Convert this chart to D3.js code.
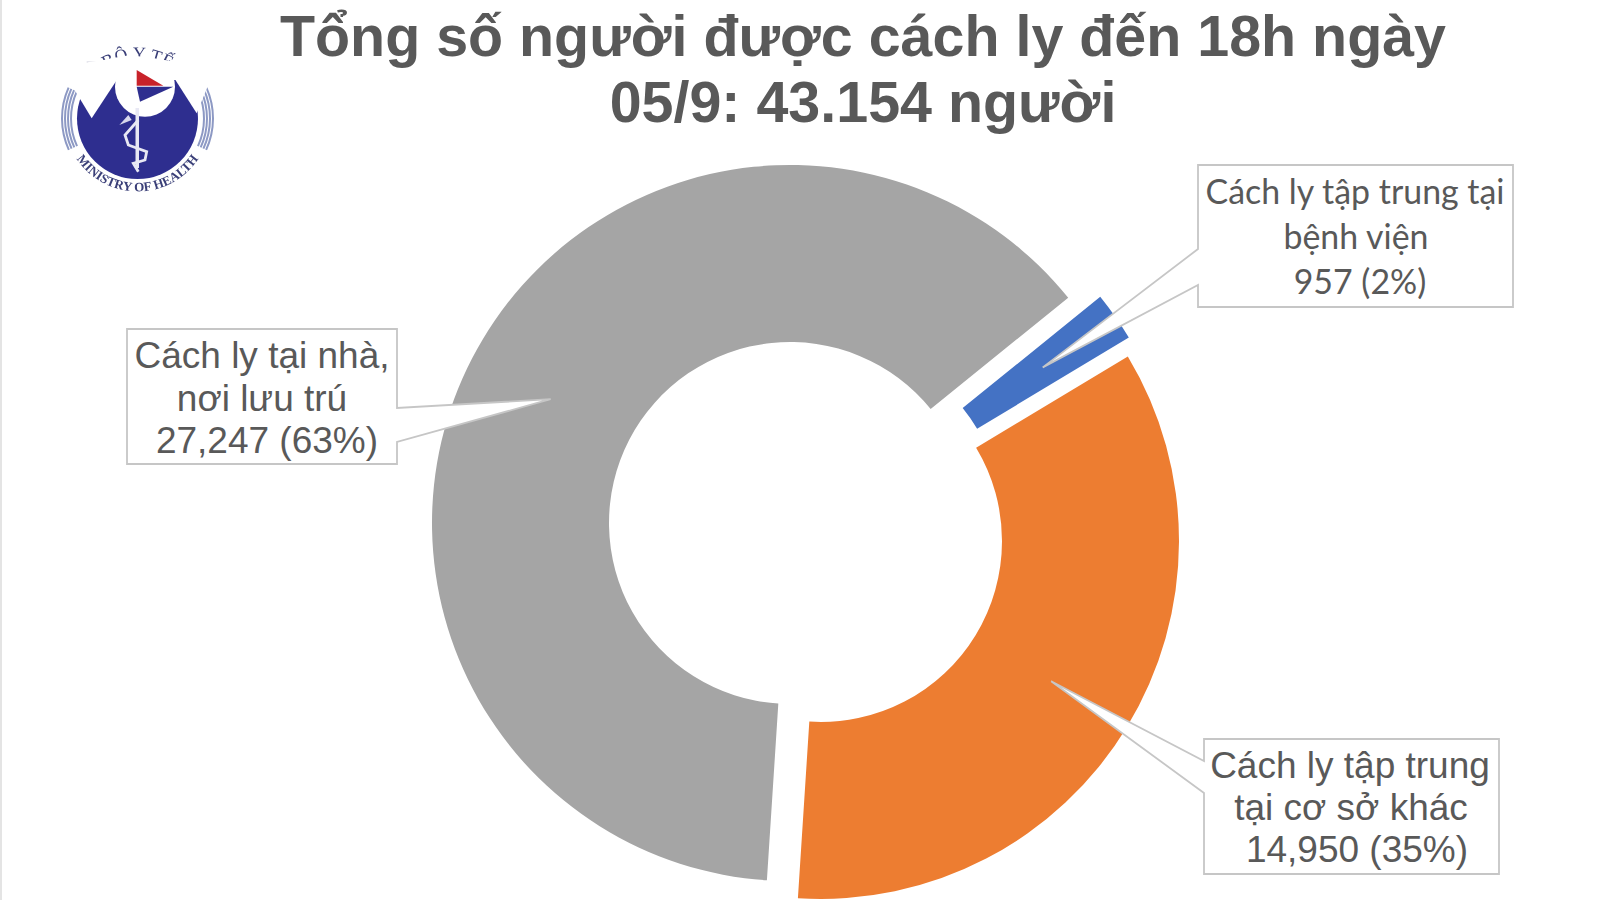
<!DOCTYPE html>
<html><head><meta charset="utf-8">
<script src="https://cdn.jsdelivr.net/npm/d3@7/dist/d3.min.js"></script>
<style>html,body{margin:0;padding:0;background:#fff;overflow:hidden}svg{display:block}</style>
</head><body><svg id="c" width="1600" height="900"></svg>
<script>
// Data
const categories = ["Cách ly tập trung tại bệnh viện","Cách ly tập trung tại cơ sở khác","Cách ly tại nhà, nơi lưu trú"];
const values = [957,14950,27247];
const labelLines = [["Cách ly tập trung tại","bệnh viện"],["Cách ly tập trung","tại cơ sở khác"],["Cách ly tại nhà,","nơi lưu trú"]];
const colors = ["#4472C4","#ED7D31","#A5A5A5"];
const titleLines = ["Tổng số người được cách ly đến 18h ngày","05/9: 43.154 người"];

// Layout
const R = 358, r = 181, startDeg = 51.0;
const centers = [[822,522],[821,541],[790,523]];
const boxes = [
 {x0:1198,y0:165,x1:1513,y1:307,side:"l",a:249,b:285,font:"Lato, Carlito, sans-serif",size:33.9,ty:[204,249,294],tx:[1355,1356,1360]},
 {x0:1204,y0:739,x1:1499,y1:874,side:"l",a:761,b:793,font:"'Liberation Sans', Arial, sans-serif",size:37,ty:[778,820,862],tx:[1350,1351,1357]},
 {x0:127,y0:329,x1:397,y1:464,side:"r",a:408,b:442,font:"'Liberation Sans', Arial, sans-serif",size:37,ty:[368,411,453],tx:[262,262,267]}
];

const svg = d3.select("#c");
svg.append("rect").attr("width",1600).attr("height",900).attr("fill","#fff");
svg.append("rect").attr("x",0).attr("width",2).attr("height",900).attr("fill","#e4e4e4");

// Title
svg.selectAll("text.title").data(titleLines).join("text").attr("class","title")
  .attr("x",863).attr("y",(d,i)=>[56,122][i]).attr("text-anchor","middle")
  .attr("font-family","'Liberation Sans', Arial, sans-serif").attr("font-weight",700)
  .attr("font-size",57.4).attr("fill","#595959").text(d=>d);

// Donut
const pie = d3.pie().sort(null).value(d=>d).startAngle(startDeg*Math.PI/180).endAngle((startDeg+360)*Math.PI/180);
const arc = d3.arc().innerRadius(r).outerRadius(R);
const arcs = pie(values);
svg.selectAll("path.slice").data(arcs).join("path").attr("class","slice")
  .attr("transform",(d,i)=>`translate(${centers[i]})`).attr("d",arc).attr("fill",(d,i)=>colors[i]);

// Callouts
const fmt = d3.format(",");
const total = d3.sum(values);
arcs.forEach((d,i)=>{
  const b = boxes[i], c = arc.centroid(d), tip=[c[0]+centers[i][0],c[1]+centers[i][1]];
  let p;
  if(b.side==="l") p=[[b.x0,b.y0],[b.x1,b.y0],[b.x1,b.y1],[b.x0,b.y1],[b.x0,b.b],tip,[b.x0,b.a]];
  else p=[[b.x0,b.y0],[b.x1,b.y0],[b.x1,b.a],tip,[b.x1,b.b],[b.x1,b.y1],[b.x0,b.y1]];
  svg.append("path").attr("d",d3.line()(p)+"Z").attr("fill","#fff").attr("stroke","#c6c6c6").attr("stroke-width",1.8);
  const lines = [...labelLines[i],`${fmt(values[i])} (${Math.round(values[i]/total*100)}%)`];
  svg.append("g").selectAll("text").data(lines).join("text")
    .attr("x",(t,j)=>b.tx[j]).attr("y",(t,j)=>b.ty[j]).attr("text-anchor","middle")
    .attr("font-family",b.font).attr("font-size",b.size).attr("fill","#595959").text(t=>t);
});

// Logo
const defs = svg.append("defs");
defs.append("filter").attr("id","soft").append("feGaussianBlur").attr("stdDeviation",0.7);
const L = svg.append("g").attr("filter","url(#soft)");
const lcx=137.5,lcy=118.5;
L.append("circle").attr("cx",lcx).attr("cy",lcy).attr("r",60.5).attr("fill","#2e2f8f");
const z = pts => d3.line()(pts.map(([x,y])=>[x/3+30,y/3+20]));
const ring = d3.arc();
[[65.5,67.5],[68.5,70.5],[71.5,73.5],[74.5,76.5]].forEach(([a,b])=>{
  [[-2.0,-1.15],[1.15,2.0]].forEach(([s,e])=>{
    L.append("path").attr("transform",`translate(${lcx},${lcy})`)
     .attr("d",ring({innerRadius:a,outerRadius:b,startAngle:s,endAngle:e})).attr("fill","#8d99c4");
  });
});
// ring text
defs.append("path").attr("id","bot").attr("d",`M ${lcx-73} ${lcy} A 73 73 0 0 0 ${lcx+73} ${lcy}`);
defs.append("path").attr("id","top").attr("d",`M ${lcx-59} ${lcy} A 59 59 0 0 1 ${lcx+59} ${lcy}`);
L.append("text").attr("font-family","'Liberation Serif',serif").attr("font-size",13).attr("font-weight",700).attr("fill","#3a3f78")
 .append("textPath").attr("href","#bot").attr("startOffset","50%").attr("text-anchor","middle").text("MINISTRY OF HEALTH");
L.append("text").attr("font-family","'Liberation Serif',serif").attr("font-size",18).attr("fill","#3a3f78")
 .append("textPath").attr("href","#top").attr("startOffset","50%").attr("text-anchor","middle").text("BỘ Y TẾ");
// small marks
L.append("path").attr("d",z([[200,170],[235,150],[235,175],[210,195]])+"Z").attr("fill","#d8202f");
L.append("path").attr("d",z([[170,125],[205,125],[200,155],[175,155]])+"Z").attr("fill","#9a9ab8");
// watermark
L.append("path").attr("d",z([[110,170],[150,130],[235,118],[300,120],[185,295]])+"Z").attr("fill","#fff");
L.append("path").attr("d",z([[430,170],[445,125],[530,125],[545,170],[500,280]])+"Z").attr("fill","#fff");
L.append("path").attr("d",z([[230,118],[300,105],[440,125],[445,180],[300,180]])+"Z").attr("fill","#fff");
L.append("circle").attr("cx",345/3+30).attr("cy",200/3+20).attr("r",30).attr("fill","#fff");
L.append("path").attr("d",z([[320,150],[400,197],[320,197]])+"Z").attr("fill","#c8232c");
L.append("path").attr("d",z([[320,200],[430,200],[330,245]])+"Z").attr("fill","#2e2f8f");
// staff and snake
L.append("rect").attr("x",135.5).attr("y",108).attr("width",3.5).attr("height",60).attr("fill","#e8e8f4");
L.append("path").attr("d",z([[325,300],[285,345],[295,375],[350,395],[345,420],[310,430],[325,455]]))
 .attr("fill","none").attr("stroke","#e8e8f4").attr("stroke-width",2.8);
L.append("path").attr("d",z([[268,315],[295,285],[305,300]])+"Z").attr("fill","#d8d8ec");
</script></body></html>
